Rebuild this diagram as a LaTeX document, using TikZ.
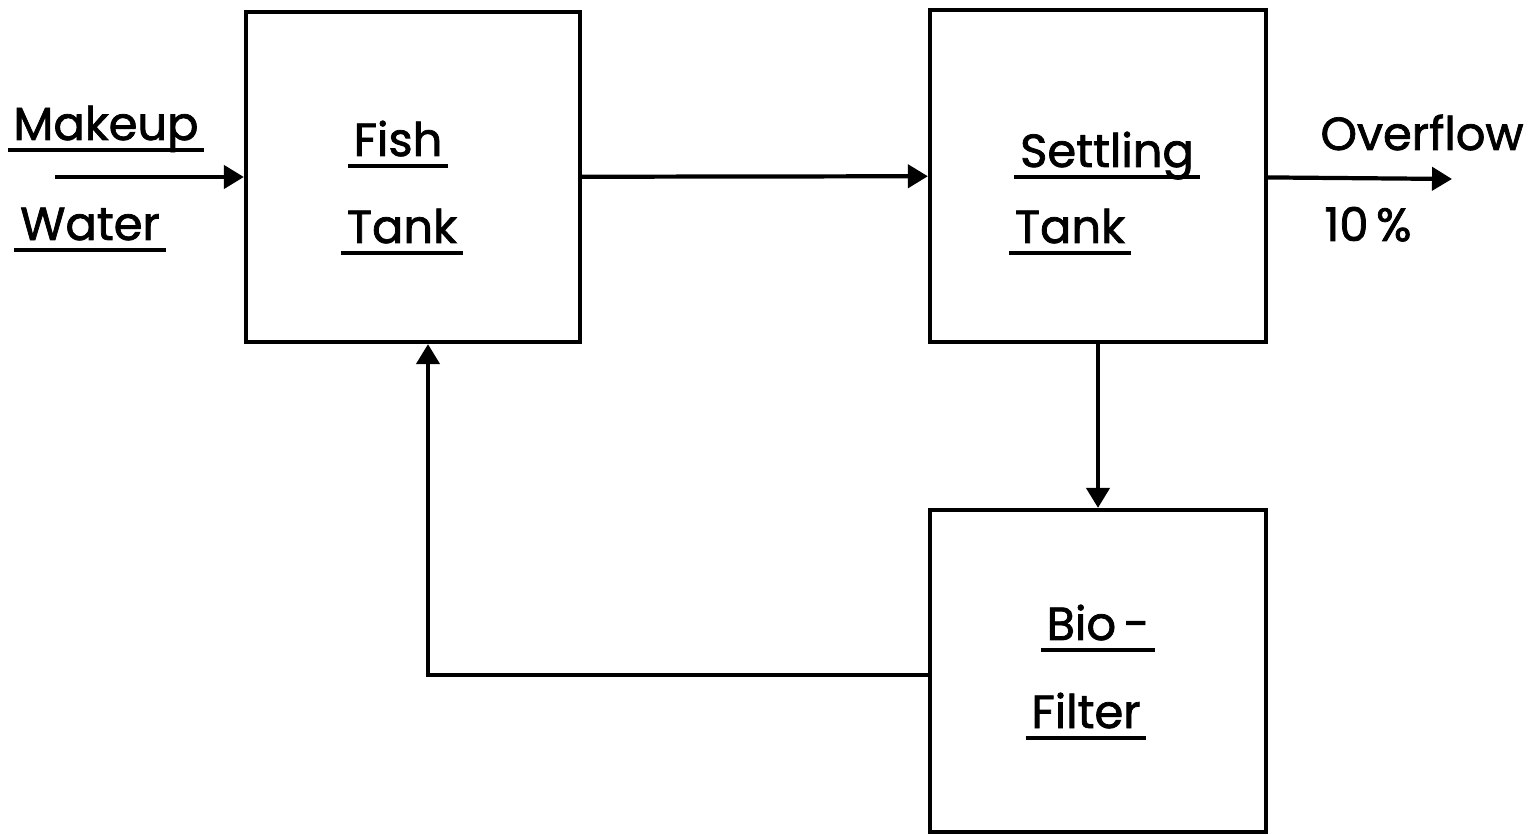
\documentclass[tikz,border=0pt]{standalone}
\usepackage{fontspec}
\setmainfont{Poppins}[BoldFont=Poppins, BoldFeatures={FakeBold=1.6}]
\usepackage{tikz}
\usetikzlibrary{arrows.meta, positioning}
\tikzstyle{tank} = [rectangle, draw=black, line width=1.2pt, minimum width=3.34cm, minimum height=3.3cm, inner sep=0pt]
\tikzstyle{word} = [anchor=base, inner sep=0pt, font=\fontsize{13.2}{16}\selectfont\bfseries]
\tikzstyle{ul} = [word, append after command={([shift={(-0.5mm,-1mm)}]\tikzlastnode.base west) edge[line width=1.2pt] ([shift={(0.5mm,-1mm)}]\tikzlastnode.base east)}]
\tikzstyle{arrow} = [line width=1.2pt, -{Triangle[length=2mm, width=2.3mm]}]

\begin{document}
\begin{tikzpicture}
    % Recirculating water flow
    \useasboundingbox (0,0) rectangle (15.39,-8.35);
    \node[tank] (fish) at (4.13,-1.77) {};
    \node[tank, minimum width=3.36cm, minimum height=3.32cm] (settle) at (10.98,-1.76) {};
    \node[tank, minimum width=3.36cm, minimum height=3.22cm] (bio) at (10.98,-6.71) {};

    \node[ul] (makeup) at (1.06,-1.40) {Makeup};
    \node[ul] (water) at (0.90,-2.40) {Water};
    \node[ul] (fish1) at (3.98,-1.56) {Fish};
    \node[ul] (fish2) at (4.02,-2.43) {Tank};
    \node[ul] (settle1) at (11.07,-1.67) {Settling};
    \node[ul] (settle2) at (10.70,-2.43) {Tank};
    \node[word] (over1) at (14.22,-1.50) {Overflow};
    \node[word] (over2) at (13.68,-2.41) {10\,\%};
    \node[ul] (bio1) at (10.98,-6.40) {Bio\,-};
    \node[ul] (bio2) at (10.86,-7.28) {Filter};

    \coordinate (inlet) at (0.55,-1.77);
    \coordinate (outlet) at (14.52,-1.79);

    \draw[arrow] (inlet) -- (fish);
    \draw[arrow] (fish) -- (settle);
    \draw[arrow] (settle) -- (outlet);
    \draw[arrow] (settle) -- (bio);
    \draw[arrow] (bio.west |- 0,-6.75) -| ([xshift=1.5mm]fish.south);
\end{tikzpicture}
\end{document}
